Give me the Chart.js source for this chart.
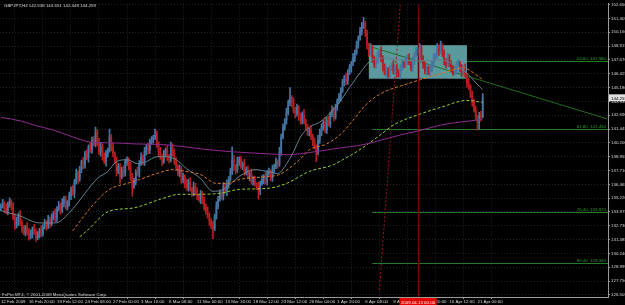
<!DOCTYPE html>
<html><head><meta charset="utf-8">
<script src="https://cdn.jsdelivr.net/npm/chart.js@4.4.1/dist/chart.umd.min.js"></script>
<style>html,body{margin:0;padding:0;background:#000;overflow:hidden}canvas{display:block}</style>
</head><body>
<canvas id="c" width="625" height="305"></canvas>
<script>
const symbolTitle = "GBPJPY,H4";
const copyrightText = "FxPro MT4, \u00A9 2001-2008 MetaQuotes Software Corp.";

const opens = [
134.40,134.50,134.77,134.32,134.06,134.59,134.95,134.41,133.61,132.72,
133.17,133.70,132.99,132.46,132.10,132.63,132.28,131.74,132.01,132.46,
132.19,131.66,131.92,132.37,132.10,132.63,132.99,132.72,133.26,132.90,
133.52,133.88,133.43,134.24,134.59,134.15,134.77,135.12,134.41,134.86,
135.39,136.01,135.66,136.73,137.44,136.90,137.79,138.51,138.24,139.22,
138.86,139.84,139.57,140.46,140.11,141.18,140.28,139.40,139.84,138.95,
138.51,139.22,139.57,140.73,139.84,139.22,138.51,137.62,138.06,137.17,
137.79,137.44,138.51,138.68,138.06,137.17,136.28,136.73,137.62,137.44,
138.33,138.95,138.51,139.40,139.84,139.57,140.28,140.46,140.73,141.00,
140.11,139.40,138.95,138.51,139.22,139.57,138.95,138.68,139.84,139.40,
138.51,138.06,137.44,137.79,136.90,137.17,136.55,136.19,136.73,136.01,
135.66,136.28,135.84,135.39,135.12,135.66,134.95,134.50,134.06,133.61,
133.17,132.72,132.46,133.61,134.50,135.12,135.66,135.39,136.28,135.84,
136.46,136.90,137.62,138.68,138.06,137.79,138.51,138.68,138.06,138.33,
137.62,137.79,137.17,137.44,136.73,136.90,136.46,136.28,135.84,136.55,
136.90,137.17,136.73,137.44,137.62,137.08,137.79,138.06,138.51,138.33,
139.40,140.73,141.62,142.24,142.95,143.84,144.29,143.84,143.13,142.78,
143.40,142.51,142.24,142.78,142.07,141.62,141.18,141.35,140.73,140.28,
139.84,139.40,140.46,141.18,141.62,142.07,141.35,142.24,141.89,142.78,
143.13,142.51,143.40,144.02,144.29,144.91,145.62,146.07,145.80,146.51,
146.96,147.40,147.85,148.29,149.00,149.63,150.25,150.78,150.96,150.07,
149.00,148.29,148.74,147.85,147.23,147.58,148.11,148.47,147.85,146.96,
146.51,146.69,146.33,146.87,147.23,146.69,146.96,146.51,146.33,146.96,
147.40,147.23,147.58,147.85,147.40,146.96,147.58,148.11,148.47,148.29,
148.74,147.85,147.23,146.69,146.96,146.51,146.87,147.40,147.85,148.11,
148.74,148.47,149.00,148.29,147.58,147.23,147.85,147.40,146.96,146.51,
146.69,147.23,147.40,146.87,146.51,146.96,146.33,145.62,145.18,144.56,
143.84,143.13,142.51,142.07,142.69,142.538];

const highs = [
134.72,135.12,134.95,134.73,134.86,135.25,135.10,134.79,133.83,133.52,
133.88,134.11,133.26,132.76,132.78,133.01,132.50,132.36,132.64,132.87,
132.46,132.22,132.52,132.75,132.85,133.34,133.17,133.67,133.53,133.82,
134.03,134.26,134.46,134.94,134.77,135.18,135.39,135.42,135.01,135.77,
136.23,136.36,136.91,137.85,137.71,138.09,138.66,138.89,139.44,139.57,
140.02,140.25,140.73,140.76,141.62,141.40,140.63,140.25,140.11,139.30,
139.52,139.72,141.44,140.95,140.19,139.40,138.92,138.33,138.36,138.01,
138.14,138.73,138.95,138.86,138.47,137.45,137.03,137.80,138.03,138.60,
139.30,139.13,139.81,140.06,140.19,140.55,140.76,140.88,141.44,141.27,
140.29,139.81,139.22,139.52,139.72,139.95,139.17,140.28,140.11,139.65,
138.89,138.24,138.20,138.06,137.47,137.32,136.93,136.95,137.08,136.19,
136.69,136.55,136.14,135.54,135.93,135.84,135.33,134.72,134.41,133.91,
133.39,133.13,133.79,134.88,135.39,135.96,135.81,136.63,136.50,136.87,
137.17,137.92,139.84,139.06,138.24,138.92,138.95,138.98,138.48,138.71,
138.01,138.14,137.62,137.85,137.17,137.20,136.61,136.66,136.77,137.25,
137.35,137.58,137.71,137.92,137.77,138.17,138.28,138.86,138.69,139.81,
141.00,141.92,142.39,143.33,144.06,145.18,144.47,144.25,143.40,143.70,
143.55,142.89,143.00,143.19,142.34,141.92,141.53,141.73,141.00,140.63,
140.02,140.87,141.45,141.92,142.22,142.45,142.51,142.60,143.00,143.54,
143.40,143.70,144.17,144.67,145.18,145.92,146.29,146.48,146.78,147.26,
147.55,148.26,148.56,149.36,149.85,150.60,151.05,151.50,151.18,150.37,
149.18,149.15,149.01,148.03,147.91,148.41,148.62,148.85,148.07,147.31,
147.10,146.96,147.17,147.38,147.61,147.18,147.31,146.78,147.23,147.70,
147.55,147.99,148.12,148.23,147.55,147.96,148.33,148.82,148.65,149.15,
149.01,148.03,147.53,147.26,147.11,147.28,147.62,148.20,148.29,149.15,
149.04,149.36,149.15,148.56,147.80,148.26,148.15,147.58,147.19,147.10,
147.50,147.70,147.55,147.25,147.18,147.31,146.48,146.03,145.45,144.86,
144.14,143.51,142.69,142.96,143.05,144.651];

const lows = [
134.09,134.31,133.92,133.82,133.73,134.42,134.13,133.25,132.41,132.53,
132.77,132.75,132.13,131.93,131.82,131.92,131.43,131.55,131.61,131.95,
131.33,131.49,131.64,131.74,131.79,132.44,132.32,132.48,132.57,132.73,
133.24,133.07,133.12,134.05,133.75,133.91,134.44,134.24,134.13,134.50,
135.08,135.47,135.26,136.49,136.57,136.73,137.51,137.88,137.93,138.67,
138.46,139.33,139.24,139.94,139.83,139.92,139.16,139.00,138.64,138.32,
138.11,138.94,139.36,139.48,138.91,138.34,137.21,137.43,136.55,136.98,
137.16,137.20,138.18,137.77,136.81,135.39,136.09,136.42,137.20,137.11,
138.16,138.23,138.15,139.09,139.21,139.24,140.09,140.18,140.50,139.80,
139.00,138.71,138.18,138.34,138.94,138.59,138.37,138.49,139.00,138.27,
137.73,137.27,137.16,136.54,136.59,136.15,135.95,135.86,135.84,135.38,
135.42,135.48,135.08,134.93,134.72,134.71,134.14,133.75,133.42,132.77,
132.48,131.57,132.29,133.33,134.26,134.95,135.11,135.03,135.65,135.44,
136.13,136.73,137.34,137.70,137.39,137.55,138.18,137.89,137.78,137.26,
137.31,136.98,136.77,136.49,136.40,136.29,136.00,135.12,135.53,136.36,
136.50,136.49,136.40,137.27,136.80,136.72,137.48,137.87,137.93,138.09,
139.07,140.56,141.34,141.88,142.71,143.55,143.44,142.89,142.45,142.61,
142.23,141.88,141.91,141.88,141.31,140.88,140.82,140.49,139.95,139.65,
138.51,139.12,140.14,140.85,141.34,141.11,141.02,141.71,141.60,142.54,
142.18,142.34,143.12,143.78,143.96,144.74,145.34,145.44,145.47,146.34,
146.56,147.16,147.52,148.12,148.72,149.46,149.89,150.50,149.79,148.64,
147.98,148.10,147.45,146.99,146.90,147.41,147.83,147.49,146.65,146.32,
146.11,146.09,146.00,146.70,146.41,146.33,146.11,146.14,145.95,146.72,
146.95,146.99,147.25,147.23,146.68,146.60,147.27,147.92,148.07,147.89,
147.61,146.90,146.41,146.33,146.34,146.23,146.59,147.04,147.69,147.83,
148.07,148.23,147.96,147.22,146.95,147.06,147.07,146.56,146.27,146.32,
146.36,147.06,146.59,146.15,146.27,146.09,145.22,144.99,144.28,143.51,
142.96,142.23,141.35,141.41,142.18,142.448];

const closes = [
134.50,134.77,134.32,134.06,134.59,134.95,134.41,133.61,132.72,133.17,
133.70,132.99,132.46,132.10,132.63,132.28,131.74,132.01,132.46,132.19,
131.66,131.92,132.37,132.10,132.63,132.99,132.72,133.26,132.90,133.52,
133.88,133.43,134.24,134.59,134.15,134.77,135.12,134.41,134.86,135.39,
136.01,135.66,136.73,137.44,136.90,137.79,138.51,138.24,139.22,138.86,
139.84,139.57,140.46,140.11,141.18,140.28,139.40,139.84,138.95,138.51,
139.22,139.57,140.73,139.84,139.22,138.51,137.62,138.06,137.17,137.79,
137.44,138.51,138.68,138.06,137.17,136.28,136.73,137.62,137.44,138.33,
138.95,138.51,139.40,139.84,139.57,140.28,140.46,140.73,141.00,140.11,
139.40,138.95,138.51,139.22,139.57,138.95,138.68,139.84,139.40,138.51,
138.06,137.44,137.79,136.90,137.17,136.55,136.19,136.73,136.01,135.66,
136.28,135.84,135.39,135.12,135.66,134.95,134.50,134.06,133.61,133.17,
132.72,132.46,133.61,134.50,135.12,135.66,135.39,136.28,135.84,136.46,
136.90,137.62,138.68,138.06,137.79,138.51,138.68,138.06,138.33,137.62,
137.79,137.17,137.44,136.73,136.90,136.46,136.28,135.84,136.55,136.90,
137.17,136.73,137.44,137.62,137.08,137.79,138.06,138.51,138.33,139.40,
140.73,141.62,142.24,142.95,143.84,144.29,143.84,143.13,142.78,143.40,
142.51,142.24,142.78,142.07,141.62,141.18,141.35,140.73,140.28,139.84,
139.40,140.46,141.18,141.62,142.07,141.35,142.24,141.89,142.78,143.13,
142.51,143.40,144.02,144.29,144.91,145.62,146.07,145.80,146.51,146.96,
147.40,147.85,148.29,149.00,149.63,150.25,150.78,150.96,150.07,149.00,
148.29,148.74,147.85,147.23,147.58,148.11,148.47,147.85,146.96,146.51,
146.69,146.33,146.87,147.23,146.69,146.96,146.51,146.33,146.96,147.40,
147.23,147.58,147.85,147.40,146.96,147.58,148.11,148.47,148.29,148.74,
147.85,147.23,146.69,146.96,146.51,146.87,147.40,147.85,148.11,148.74,
148.47,149.00,148.29,147.58,147.23,147.85,147.40,146.96,146.51,146.69,
147.23,147.40,146.87,146.51,146.96,146.33,145.62,145.18,144.56,143.84,
143.13,142.51,142.07,142.69,142.538,144.259];

// Moving averages: [bar index, price]
const maGrey = [[0,134.10],[5,133.88],[11,133.61],[22,132.99],[31,132.99],[39,133.88],[48,135.66],[55,136.99],[61,137.62],[66,138.51],[72,138.68],[78,138.33],[83,138.51],[89,138.95],[95,138.95],[100,138.68],[106,137.88],[114,136.99],[121,135.84],[127,136.01],[136,137.17],[145,137.79],[152,137.62],[158,137.44],[162,138.06],[167,139.40],[171,140.73],[176,141.62],[182,142.07],[191,143.40],[199,145.18],[205,146.51],[211,147.58],[219,147.85],[228,147.67],[239,147.58],[251,147.67],[259,147.23],[267,146.33],[271,145.62],[275,145.00]];
const maOrange = [[41,132.28],[53,134.68],[62,136.01],[72,136.55],[79,136.90],[89,137.44],[98,137.79],[106,137.62],[114,137.35],[123,136.55],[129,136.55],[136,136.90],[152,137.17],[159,137.35],[171,138.77],[176,139.57],[186,140.11],[194,141.00],[201,142.24],[208,143.58],[216,144.56],[234,145.62],[249,146.33],[258,146.78],[264,146.96],[268,146.69],[275,145.89]];
const maGreen = [[45,131.74],[49,132.28],[62,134.06],[75,134.32],[91,135.12],[102,135.57],[114,135.57],[125,135.66],[136,136.01],[152,136.10],[163,136.55],[176,137.62],[190,138.24],[195,138.68],[203,139.40],[215,140.73],[225,141.89],[239,142.78],[251,143.40],[266,144.02],[275,143.84]];
const maPurple = [[0,142.51],[12,142.15],[19,141.80],[30,141.35],[38,140.91],[51,140.28],[64,140.20],[76,140.11],[95,140.02],[114,139.66],[133,139.39],[152,139.22],[164,139.13],[171,139.22],[190,139.66],[209,140.11],[217,140.46],[228,140.91],[240,141.35],[251,141.80],[262,142.07],[271,142.24],[275,142.33]];

const timeTickIndex = [0,16,32,48,64,80,96,112,128,144,160,176,192,208,224,240,256,272];
const timeTickLabels = ["12 Feb 2009","16 Feb 20:00","19 Feb 12:00","24 Feb 08:00","27 Feb 00:00","3 Mar 16:00","6 Mar 08:00","11 Mar 00:00","13 Mar 16:00","18 Mar 12:00","23 Mar 12:00","26 Mar 04:00","1 Apr 20:00","6 Apr 08:00","9 Apr 00:00","13 Apr 20:00","16 Apr 12:00","21 Apr 00:00"];
const priceTicks = [152.650,151.405,150.160,148.915,147.670,146.425,145.180,143.935,142.690,141.445,140.200,138.955,137.710,136.465,135.220,133.975,132.730,131.485,130.240,128.995,127.750,126.505];

const fibLevelNames = ["23.60","61.80","76.40","85.40"];
const fibPrices = [147.58,141.45,133.97,129.34];
const fibStartIndex = 212;
const fibTrend = [[216,126.94],[228,152.74]];
const trendLine = [[210,148.91],[346,142.36]];
const rectBox = [210,266,149.00,145.98];
const vLineIndex = 238;
const vLineLabel = "2009.04.13 00:00";
const totalSlots = 347;

const FONT = "'Liberation Sans Narrow', 'Liberation Sans', Arial, sans-serif";
const FS = 4.4;
const bull = '#4676a4', bear = '#b81d22';
const candleColors = closes.map((c, i) => c >= opens[i] ? bull : bear);

const overlay = {
  id: 'overlay',
  beforeDraw(chart) {
    const {ctx, chartArea: a, scales: {x, y}} = chart;
    ctx.save();
    ctx.fillStyle = '#000';
    ctx.fillRect(0, 0, chart.width, chart.height);
    ctx.beginPath(); ctx.rect(a.left, a.top, a.right - a.left, a.bottom - a.top); ctx.clip();
    const fx = x.getPixelForValue(fibStartIndex);
    ctx.strokeStyle = '#247a24'; ctx.lineWidth = 1;
    fibPrices.forEach(p => {
      const yy = Math.round(y.getPixelForValue(p)) + 0.5;
      ctx.beginPath(); ctx.moveTo(fx, yy); ctx.lineTo(a.right, yy); ctx.stroke();
    });
    const x1 = x.getPixelForValue(rectBox[0]), x2 = x.getPixelForValue(rectBox[1]);
    const y1 = y.getPixelForValue(rectBox[2]), y2 = y.getPixelForValue(rectBox[3]);
    ctx.fillStyle = '#5a9a9c';
    ctx.fillRect(x1, y1, x2 - x1, y2 - y1);
    ctx.restore();
  },
  beforeDatasetsDraw(chart) {
    const {ctx, chartArea: a, scales: {x, y}} = chart;
    ctx.save();
    ctx.beginPath(); ctx.rect(a.left, a.top, a.right - a.left, a.bottom - a.top); ctx.clip();
    const vx = Math.round(x.getPixelForValue(vLineIndex)) + 0.5;
    ctx.strokeStyle = '#6e0000'; ctx.lineWidth = 1.5;
    ctx.beginPath(); ctx.moveTo(vx, a.top); ctx.lineTo(vx, a.bottom); ctx.stroke();
    ctx.strokeStyle = '#a81212'; ctx.lineWidth = 1; ctx.setLineDash([2, 2]);
    ctx.beginPath();
    ctx.moveTo(x.getPixelForValue(fibTrend[0][0]), y.getPixelForValue(fibTrend[0][1]));
    ctx.lineTo(x.getPixelForValue(fibTrend[1][0]), y.getPixelForValue(fibTrend[1][1]));
    ctx.stroke();
    ctx.setLineDash([]);
    ctx.strokeStyle = '#1f6e1f';
    ctx.beginPath();
    ctx.moveTo(x.getPixelForValue(trendLine[0][0]), y.getPixelForValue(trendLine[0][1]));
    ctx.lineTo(x.getPixelForValue(trendLine[1][0]), y.getPixelForValue(trendLine[1][1]));
    ctx.stroke();
    ctx.restore();
  },
  afterDraw(chart) {
    const {ctx, chartArea: a, scales: {x, y}} = chart;
    const n = closes.length - 1;
    ctx.save();
    ctx.font = FS + "px " + FONT;
    ctx.textBaseline = 'alphabetic';
    ctx.fillStyle = '#d8d8d8';
    ctx.textAlign = 'left';
    ctx.fillText(symbolTitle + " " + opens[n].toFixed(3) + " " + highs[n].toFixed(3) + " " + lows[n].toFixed(3) + " " + closes[n].toFixed(3), 4, 7);
    ctx.fillText(copyrightText, 2, 295.5);
    ctx.fillStyle = '#2e9a2e';
    ctx.textAlign = 'right';
    fibPrices.forEach((p, i) => {
      const yy = Math.round(y.getPixelForValue(p));
      ctx.fillText(fibLevelNames[i] + "  " + p.toFixed(3), a.right - 2, yy - 1);
    });
    const vx = Math.round(x.getPixelForValue(vLineIndex));
    const tw = ctx.measureText(vLineLabel).width;
    ctx.fillStyle = '#e60000';
    ctx.fillRect(vx - tw / 2 - 1.5, a.bottom + 1, tw + 3, chart.height - a.bottom - 1);
    ctx.fillStyle = '#ffffff';
    ctx.textAlign = 'center';
    ctx.fillText(vLineLabel, vx, a.bottom + 6.5);
    const py = y.getPixelForValue(closes[n]);
    ctx.fillStyle = '#e0e0e0';
    ctx.fillRect(a.right + 1, py - 3.5, chart.width - a.right - 1, 7);
    ctx.fillStyle = '#000';
    ctx.textAlign = 'left';
    ctx.fillText(closes[n].toFixed(3), a.right + 3, py + 1.8);
    ctx.restore();
  }
};

const maLine = (pts, color, dash, ord) => ({
  type: 'line',
  data: pts.map(([i, p]) => ({x: i, y: p})),
  borderColor: color, borderWidth: 1, borderDash: dash,
  pointRadius: 0, cubicInterpolationMode: 'monotone', order: ord
});

new Chart(document.getElementById('c'), {
  type: 'bar',
  data: {
    datasets: [
      maLine(maPurple, '#8e2a8e', [], 0),
      maLine(maGreen, '#8fcf2f', [3, 2], 0),
      maLine(maOrange, '#d9781e', [3, 2], 0),
      maLine(maGrey, '#66808f', [], 0),
      {
        type: 'bar', grouped: false, order: 2,
        data: closes.map((c, i) => ({x: i, y: [lows[i], highs[i]]})),
        backgroundColor: candleColors, borderWidth: 0, barThickness: 1
      },
      {
        type: 'bar', grouped: false, order: 1,
        data: closes.map((c, i) => ({x: i, y: [opens[i], c]})),
        backgroundColor: candleColors, borderWidth: 0, barThickness: 1, minBarLength: 1
      }
    ]
  },
  options: {
    responsive: false, animation: false, devicePixelRatio: 1,
    layout: {padding: 0},
    plugins: {legend: {display: false}, tooltip: {enabled: false}, title: {display: false}},
    scales: {
      x: {
        type: 'linear', min: -0.5, max: totalSlots - 0.5, offset: false,
        afterBuildTicks: s => { s.ticks = timeTickIndex.map(v => ({value: v})); },
        afterFit: s => { s.height = 8; },
        ticks: {
          autoSkip: false, maxRotation: 0, minRotation: 0, align: 'start', padding: 0,
          color: '#d8d8d8', font: {size: FS, family: FONT},
          callback: (v, idx) => timeTickLabels[idx]
        },
        grid: {color: 'rgba(110,125,140,0.28)', lineWidth: 1, tickLength: 2, tickColor: '#9a9a9a', tickBorderDash: []},
        border: {display: true, color: '#9a9a9a', width: 1, dash: [1, 2]}
      },
      y: {
        type: 'linear', position: 'right', min: 126.318, max: 152.741,
        afterBuildTicks: s => { s.ticks = priceTicks.map(v => ({value: v})); },
        afterFit: s => { s.width = 17; },
        ticks: {
          autoSkip: false, padding: 1, color: '#d8d8d8', font: {size: FS, family: FONT},
          callback: v => Number(v).toFixed(3)
        },
        grid: {color: 'rgba(110,125,140,0.28)', lineWidth: 1, tickLength: 2, tickColor: '#9a9a9a', tickBorderDash: []},
        border: {display: true, color: '#9a9a9a', width: 1, dash: [1, 2]}
      }
    }
  },
  plugins: [overlay]
});
</script>
</body></html>
